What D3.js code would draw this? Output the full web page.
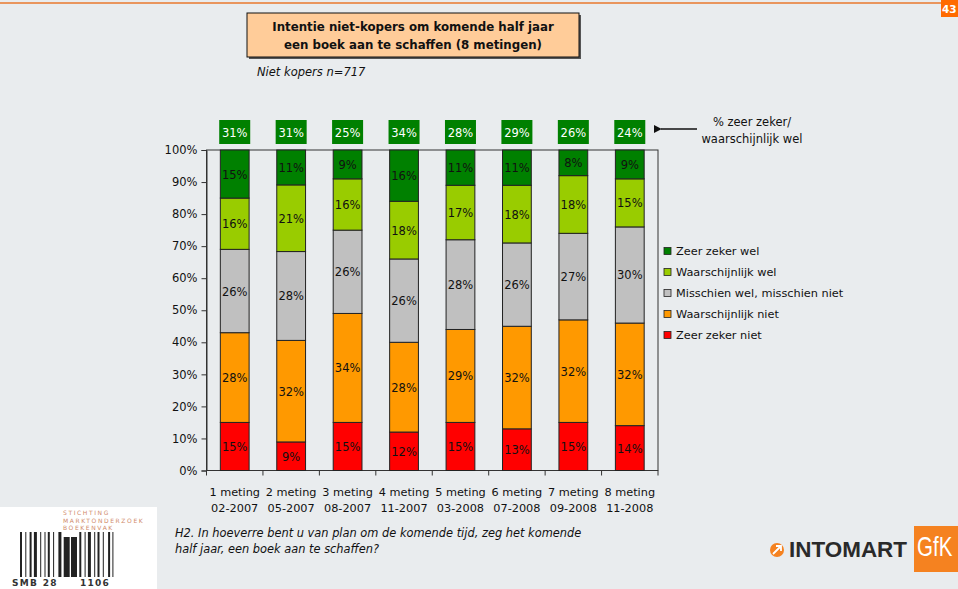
<!DOCTYPE html>
<html><head><meta charset="utf-8">
<script src="https://cdn.jsdelivr.net/npm/d3@7/dist/d3.min.js"></script>
<style>
html,body{margin:0;padding:0;background:#e9ecee;overflow:hidden;}
svg{display:block;font-family:"DejaVu Sans",sans-serif;}
</style></head><body>
<svg id="chart" width="958" height="589"></svg>
<script>
// Eight measurement rounds
const metingen = ["1 meting","2 meting","3 meting","4 meting","5 meting","6 meting","7 meting","8 meting"];
const datums = ["02-2007","05-2007","08-2007","11-2007","03-2008","07-2008","09-2008","11-2008"];

// Answer categories, bottom of the stack first
const seriesNames = ["Zeer zeker niet","Waarschijnlijk niet","Misschien wel, misschien niet","Waarschijnlijk wel","Zeer zeker wel"];
const seriesColors = ["#ff0000","#ff9900","#c0c0c0","#99cc00","#008000"];

// Percentages per round
const zeerZekerNiet      = [15, 9,15,12,15,13,15,14];
const waarschijnlijkNiet = [28,32,34,28,29,32,32,32];
const misschien          = [26,28,26,26,28,26,27,30];
const waarschijnlijkWel  = [16,21,16,18,17,18,18,15];
const zeerZekerWel       = [15,11, 9,16,11,11, 8, 9];

// "% zeer zeker / waarschijnlijk wel" totals shown above the bars
const totaalWel = [31,31,25,34,28,29,26,24];

const yTicks = [0,10,20,30,40,50,60,70,80,90,100];

const seriesValues = [zeerZekerNiet, waarschijnlijkNiet, misschien, waarschijnlijkWel, zeerZekerWel];
const rows = metingen.map((m, i) => {
  const r = {meting: m, datum: datums[i], idx: i};
  seriesNames.forEach((s, k) => r[s] = seriesValues[k][i]);
  return r;
});

const svg = d3.select("#chart");
const W = 958, H = 589;

// ---- page decoration ----
svg.append("rect").attr("width", W).attr("height", H).attr("fill", "#e9ecee");
svg.append("line").attr("x1", 0).attr("x2", 941).attr("y1", 3).attr("y2", 3)
  .attr("stroke", "#e8782c").attr("stroke-width", 1.5);
svg.append("rect").attr("x", 941).attr("y", 0).attr("width", 17).attr("height", 17).attr("fill", "#ff6a00");
svg.append("text").attr("x", 942).attr("y", 13).attr("fill", "#fff")
  .style("font-size", "10.5px").style("font-weight", "bold").text("43");

// title box with shadow
svg.append("rect").attr("x", 249).attr("y", 15).attr("width", 332).attr("height", 44).attr("fill", "#555");
svg.append("rect").attr("x", 247).attr("y", 13).attr("width", 332).attr("height", 44)
  .attr("fill", "#ffcc99").attr("stroke", "#111").attr("stroke-width", 1);
const title = svg.append("text").attr("text-anchor", "middle")
  .style("font-size", "11.8px").style("font-weight", "bold").attr("fill", "#111");
title.append("tspan").attr("x", 413).attr("y", 31).text("Intentie niet-kopers om komende half jaar");
title.append("tspan").attr("x", 413).attr("y", 49).text("een boek aan te schaffen (8 metingen)");

svg.append("text").attr("x", 257).attr("y", 76).style("font-size", "11.5px")
  .style("font-style", "italic").attr("fill", "#111").text("Niet kopers n=717");

// ---- chart ----
const plot = {left: 206.5, right: 658, top: 150, bottom: 470.5};

const x = d3.scaleBand().domain(metingen).range([plot.left, plot.right]).paddingInner(0.49).paddingOuter(0.245);
const xb = d3.scaleBand().domain(metingen).range([plot.left, plot.right]);
const y = d3.scaleLinear().domain([0, 1]).range([plot.bottom, plot.top]);

const stack = d3.stack().keys(seriesNames).offset(d3.stackOffsetExpand);
const stacked = stack(rows);

// plot frame
svg.append("rect").attr("x", plot.left).attr("y", plot.top)
  .attr("width", plot.right - plot.left).attr("height", plot.bottom - plot.top)
  .attr("fill", "none").attr("stroke", "#333").attr("stroke-width", 1);

// y axis
const yAxis = d3.axisLeft(y).tickValues(yTicks.map(v => v / 100))
  .tickFormat(v => Math.round(v * 100) + "%").tickSize(5).tickPadding(4);
const gy = svg.append("g").attr("transform", `translate(${plot.left},0)`).call(yAxis);
gy.select(".domain").attr("stroke", "#333");
gy.selectAll(".tick line").attr("stroke", "#333");
gy.selectAll("text").style("font-size", "11.5px").style("font-family", "DejaVu Sans").attr("fill", "#111");

// x axis: ticks at category boundaries
const gx = svg.append("g").attr("transform", `translate(0,${plot.bottom})`);
gx.append("line").attr("x1", plot.left).attr("x2", plot.right).attr("stroke", "#333");
const boundaries = metingen.map(m => xb(m)).concat([plot.right]);
gx.selectAll("line.tk").data(boundaries).join("line").attr("class", "tk")
  .attr("x1", d => d).attr("x2", d => d).attr("y1", 0).attr("y2", 5).attr("stroke", "#333");
const xl = gx.selectAll("text.xl").data(rows).join("text").attr("class", "xl")
  .attr("text-anchor", "middle").style("font-size", "11.3px").attr("fill", "#111");
xl.append("tspan").attr("x", d => xb(d.meting) + xb.bandwidth() / 2).attr("y", 25).text(d => d.meting);
xl.append("tspan").attr("x", d => xb(d.meting) + xb.bandwidth() / 2).attr("y", 41).text(d => d.datum);

// stacked bars
const layers = svg.append("g").selectAll("g").data(stacked).join("g")
  .attr("fill", (d, i) => seriesColors[i]);
layers.selectAll("rect").data(d => d).join("rect")
  .attr("x", d => x(d.data.meting))
  .attr("width", x.bandwidth())
  .attr("y", d => y(d[1]))
  .attr("height", d => y(d[0]) - y(d[1]))
  .attr("stroke", "#222").attr("stroke-width", 1);

// segment value labels
const labels = svg.append("g");
stacked.forEach((layer, k) => {
  labels.selectAll(null).data(layer).join("text")
    .attr("x", d => x(d.data.meting) + x.bandwidth() / 2)
    .attr("y", d => (y(d[0]) + y(d[1])) / 2 + 4.5)
    .attr("text-anchor", "middle").style("font-size", "11.5px").attr("fill", "#111")
    .text(d => d.data[layer.key] + "%");
});

// totals boxes above each bar
const tot = svg.append("g").selectAll("g").data(rows).join("g")
  .attr("transform", d => `translate(${xb(d.meting) + xb.bandwidth() / 2},0)`);
tot.append("rect").attr("x", -15.5).attr("y", 120).attr("width", 31).attr("height", 24).attr("fill", "#008000");
tot.append("text").attr("y", 136.5).attr("text-anchor", "middle").style("font-size", "11.5px")
  .attr("fill", "#fff").text(d => totaalWel[d.idx] + "%");

// arrow + note
svg.append("defs").append("marker").attr("id", "ah").attr("viewBox", "0 0 10 10")
  .attr("refX", 1).attr("refY", 5).attr("markerWidth", 7).attr("markerHeight", 6)
  .attr("orient", "auto-start-reverse")
  .append("path").attr("d", "M10,0 L0,5 L10,10 z").attr("fill", "#111");
svg.append("line").attr("x1", 697).attr("x2", 661).attr("y1", 129).attr("y2", 129)
  .attr("stroke", "#111").attr("stroke-width", 1.3).attr("marker-end", "url(#ah)");
const note = svg.append("text").attr("text-anchor", "middle").style("font-size", "11.5px").attr("fill", "#111");
note.append("tspan").attr("x", 752).attr("y", 126).text("% zeer zeker/");
note.append("tspan").attr("x", 752).attr("y", 143).text("waarschijnlijk wel");

// legend
const legendOrder = seriesNames.map((s, i) => ({name: s, color: seriesColors[i]})).reverse();
const lg = svg.append("g").selectAll("g").data(legendOrder).join("g")
  .attr("transform", (d, i) => `translate(664,${251 + i * 21})`);
lg.append("rect").attr("x", 0).attr("y", -3.5).attr("width", 7).attr("height", 7)
  .attr("fill", d => d.color).attr("stroke", "#222").attr("stroke-width", 0.8);
lg.append("text").attr("x", 12).attr("y", 4).style("font-size", "11.3px").attr("fill", "#111").text(d => d.name);

// question text
const q = svg.append("text").style("font-size", "11.4px").style("font-style", "italic").attr("fill", "#111");
q.append("tspan").attr("x", 175).attr("y", 537).text("H2. In hoeverre bent u van plan om de komende tijd, zeg het komende");
q.append("tspan").attr("x", 175).attr("y", 553).text("half jaar, een boek aan te schaffen?");

// ---- SMB logo ----
const logo = svg.append("g");
logo.append("rect").attr("x", 0).attr("y", 507).attr("width", 157).attr("height", 82).attr("fill", "#fff");
const smbLines = ["STICHTING", "MARKTONDERZOEK", "BOEKENVAK"];
logo.selectAll("text.smb").data(smbLines).join("text").attr("class", "smb")
  .attr("x", 63).attr("y", (d, i) => 515 + i * 7.5)
  .style("font-size", "6px").style("letter-spacing", "1.6px").attr("fill", "#d08a6a").text(d => d);
// barcode: alternating bar / gap widths
const barWidths = [2,2,1,2,2,1,3,2,1,2,1,1,2,2,1,3,3,1,6,0,6,1,2,2,1,1,3,2,1,1,2,2,1,3,2,1,1];
let bx = 20;
barWidths.forEach((w, i) => {
  if (i % 2 === 0) {
    const mid = i === 18 || i === 20;
    logo.append("rect").attr("x", bx).attr("y", mid ? 537 : 532).attr("width", w)
      .attr("height", mid ? 40 : 45).attr("fill", "#222");
  }
  bx += w + (i % 2 === 0 ? 0.2 : 1.1);
});
logo.append("text").attr("x", 12).attr("y", 586).style("font-size", "9px").style("font-weight", "bold")
  .style("letter-spacing", "1.3px").attr("fill", "#333").attr("xml:space", "preserve").text("SMB 28     1106");

// ---- Intomart GfK logo ----
svg.append("circle").attr("cx", 777).attr("cy", 550).attr("r", 7).attr("fill", "#f58220");
svg.append("path").attr("d", "M773,554 L780,547 M776,546 L781,546 L781,551").attr("stroke", "#fff")
  .attr("stroke-width", 1.8).attr("fill", "none");
svg.append("text").attr("x", 789).attr("y", 557).style("font-family", "Liberation Sans, Arial, sans-serif")
  .style("font-size", "22px").style("font-weight", "bold").attr("fill", "#2a2a2a")
  .attr("textLength", 118).attr("lengthAdjust", "spacingAndGlyphs").text("INTOMART");
svg.append("rect").attr("x", 914).attr("y", 526).attr("width", 44).attr("height", 46).attr("fill", "#f58220");
svg.append("text").attr("transform", "translate(917,556) scale(1,1.35)")
  .style("font-family", "Liberation Sans, Arial, sans-serif")
  .style("font-size", "20.5px").attr("fill", "#fff").text("GfK");
</script>
</body></html>
